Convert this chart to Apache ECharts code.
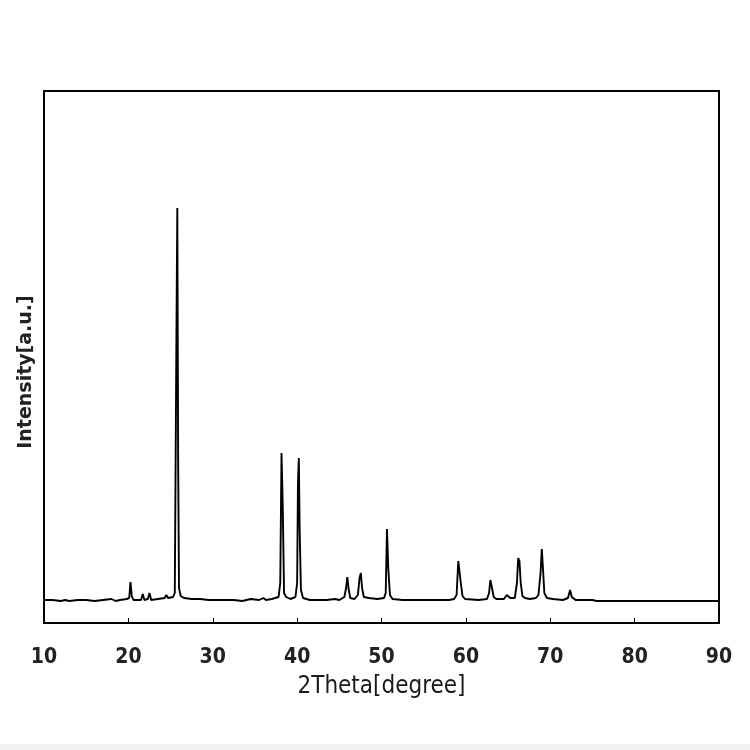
<!DOCTYPE html>
<html><head><meta charset="utf-8">
<script src="https://cdn.jsdelivr.net/npm/echarts@6/dist/echarts.min.js"></script>
<style>html,body{margin:0;padding:0;background:#fff}#c{width:750px;height:750px}</style>
</head><body><div id="c"></div>
<script>
const twoTheta = [10.0,11.0,12.0,12.5,13.0,14.0,15.0,16.0,17.0,18.0,18.5,19.0,19.8,20.1,20.25,20.4,20.6,21.5,21.7,21.9,22.3,22.5,22.7,23.5,24.3,24.5,24.7,25.3,25.5,25.7,25.8,25.9,26.0,26.2,26.6,27.5,28.5,29.5,30.5,31.5,32.5,33.5,34.5,35.5,36.0,36.3,37.0,37.8,38.0,38.15,38.3,38.45,38.7,39.2,39.8,40.0,40.1,40.2,40.3,40.45,40.7,41.5,42.5,43.5,44.5,45.0,45.6,45.8,45.95,46.1,46.3,46.8,47.2,47.4,47.55,47.7,47.9,48.5,49.5,50.3,50.5,50.65,50.8,51.0,51.3,52.5,54.0,56.0,58.0,58.6,58.9,59.1,59.25,59.4,59.6,59.9,61.5,62.5,62.75,62.9,63.05,63.3,63.6,64.5,64.85,65.05,65.25,65.8,66.05,66.2,66.35,66.5,66.7,67.0,67.6,68.3,68.6,68.85,69.0,69.1,69.3,69.6,70.3,71.5,72.1,72.35,72.55,73.0,75.0,75.5,80.0,85.0,90.0];
const intensity = [23,23,22,23,22,23,23,22,23,24,22,23,24,25,41,27,23,23,29,23,24,30,23,24,25,28,25,26,30,294,415,161,35,27,25,24,24,23,23,23,23,22,24,23,25,23,24,26,40,170,115,30,26,24,26,40,140,165,93,33,25,23,23,23,24,23,26,35,46,34,25,24,28,45,50,35,26,25,24,25,30,94,55,28,24,23,23,23,23,24,28,62,63,40,27,24,23,24,30,43,37,26,24,24,28,30,25,25,40,65,62,40,27,25,24,25,28,50,74,60,30,25,24,23,25,33,26,23,23,22,22,22,22];
const xTicks = [10,20,30,40,50,60,70,80,90];
const xName = '2Theta[degree]';
const yName = 'Intensity[a.u.]';

const data = twoTheta.map((x,i)=>[x,intensity[i]]);
const chart = echarts.init(document.getElementById('c'));
chart.setOption({
  animation:false,
  backgroundColor:'#fff',
  grid:{left:44,right:31,top:91,bottom:127,show:true,borderColor:'#000',borderWidth:2,backgroundColor:'transparent'},
  graphic:[
    {type:'text',x:26,y:372,rotation:Math.PI/2,
     style:{text:yName,align:'center',verticalAlign:'middle',
       font:'bold 19px "DejaVu Sans", sans-serif',fill:'#222'}},
    {type:'rect',left:0,top:744,shape:{width:750,height:6},style:{fill:'#f2f2f2'},silent:true}
  ],
  xAxis:{type:'value',min:xTicks[0],max:xTicks[xTicks.length-1],interval:10,
    name:xName,nameLocation:'middle',nameGap:52,
    nameTextStyle:{fontFamily:'Liberation Sans Narrow, DejaVu Sans Condensed, sans-serif',fontSize:24,color:'#1a1a1a'},
    axisLine:{show:true,lineStyle:{color:'#000',width:2}},
    axisTick:{show:true,inside:true,length:5,lineStyle:{color:'#000',width:1}},
    axisLabel:{margin:24,fontFamily:'Liberation Sans Narrow, DejaVu Sans Condensed, sans-serif',fontSize:21,fontWeight:'bold',color:'#222'},
    splitLine:{show:false}},
  yAxis:{type:'value',min:0,max:532,
    axisLine:{show:true,lineStyle:{color:'#000',width:2}},
    axisTick:{show:false},axisLabel:{show:false},splitLine:{show:false}},
  series:[{type:'line',data:data,showSymbol:false,lineStyle:{color:'#000',width:1.9},silent:true}]
});
</script></body></html>
